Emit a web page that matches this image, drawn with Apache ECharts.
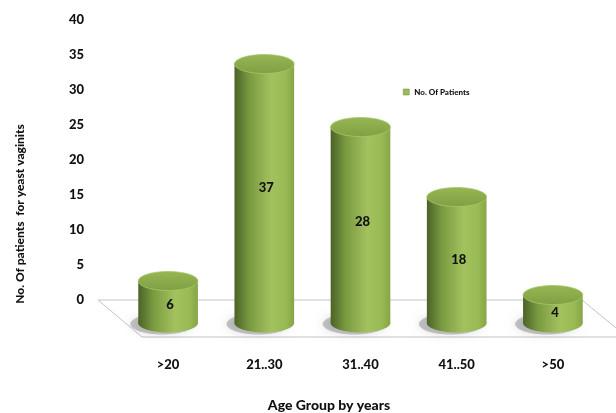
<!DOCTYPE html>
<html>
<head>
<meta charset="utf-8">
<script src="https://cdn.jsdelivr.net/npm/echarts@6/dist/echarts.min.js"></script>
<style>html,body{margin:0;padding:0;background:#fff}#c{width:616px;height:413px}</style>
</head>
<body>
<div id="c"></div>
<script>
const categories = ['>20', '21..30', '31..40', '41..50', '>50'];
const patients = [6, 37, 28, 18, 4];
const seriesName = 'No. Of Patients';
const xTitle = 'Age Group by years';
const yTitle = 'No. Of patients  for yeast vaginits';

const FONT = 'Lato, "Open Sans", sans-serif';
const W = 900;
const chart = echarts.init(document.getElementById('c'), null, {renderer: 'canvas'});

const bodyGrad = () => new echarts.graphic.LinearGradient(0, 0, 1, 0, [
  {offset: 0, color: '#4b6327'},
  {offset: 0.25, color: '#7a9a40'},
  {offset: 0.62, color: '#a3c25e'},
  {offset: 0.85, color: '#9aba55'},
  {offset: 1, color: '#86a646'}
]);
const topGrad = () => new echarts.graphic.LinearGradient(0, 0, 0, 1, [
  {offset: 0, color: '#97b654'},
  {offset: 1, color: '#7f9f43'}
]);

const DEPTH_DY = 23;

const option = {
  animation: false,
  backgroundColor: '#ffffff',
  grid: {left: 120, right: 15, top: 20, bottom: 113},
  legend: {
    left: 398, top: 83,
    itemWidth: 6, itemHeight: 6, itemGap: 4,
    icon: 'rect',
    textStyle: {fontFamily: FONT, fontWeight: W, fontSize: 8, color: '#111'},
    data: [{name: seriesName, itemStyle: {color: '#9bbb59', borderColor: '#6f8f35', borderWidth: 0.5}}]
  },
  xAxis: {
    type: 'category',
    data: categories,
    axisLine: {show: false},
    axisTick: {show: false},
    axisLabel: {margin: 58, fontFamily: FONT, fontWeight: W, fontSize: 13, color: '#111'}
  },
  yAxis: {
    type: 'value',
    min: 0, max: 40, interval: 5,
    splitLine: {show: false},
    axisLine: {show: false},
    axisTick: {show: false},
    axisLabel: {margin: 36, fontFamily: FONT, fontWeight: W, fontSize: 13, color: '#111'}
  },
  graphic: [
    {type: 'text', x: 329, y: 405, style: {text: xTitle, fontFamily: FONT, fontWeight: W, fontSize: 14, fill: '#111', textAlign: 'center', textVerticalAlign: 'middle'}},
    {type: 'text', x: 20, y: 214, rotation: Math.PI / 2, style: {text: yTitle, fontFamily: FONT, fontWeight: W, fontSize: 12, fill: '#111', textAlign: 'center', textVerticalAlign: 'middle'}}
  ],
  series: [
    {
      type: 'custom',
      name: 'floor',
      silent: true,
      clip: false,
      z: 1,
      data: [[0, 0]],
      renderItem: function (params, api) {
        const cs = params.coordSys;
        const y0 = api.coord([0, 0])[1];
        const l = cs.x, r = cs.x + cs.width;
        return {
          type: 'polygon',
          shape: {points: [[l - 22, y0], [r - 19, y0], [r + 26, y0 + 37], [l + 22, y0 + 37]]},
          style: {fill: '#ffffff', stroke: '#c4c4c4', lineWidth: 1}
        };
      }
    },
    {
      type: 'custom',
      name: seriesName,
      clip: false,
      z: 3,
      itemStyle: {color: '#9bbb59'},
      data: patients.map((v, i) => [i, v]),
      renderItem: function (params, api) {
        const idx = api.value(0), val = api.value(1);
        const top = api.coord([idx, val]);
        const base = api.coord([idx, 0]);
        const bw = api.size([1, 0])[0] * 0.62;
        const rx = bw / 2, ry = 9.5;
        const cx = top[0];
        const yTop = top[1] + DEPTH_DY, yBot = base[1] + DEPTH_DY;
        const labelY = (yTop + yBot + ry) / 2 - (yBot - yTop) * 0.04;
        return {
          type: 'group',
          children: [
            {type: 'ellipse', shape: {cx: cx - 6, cy: yBot + 1, rx: rx + 2, ry: ry + 1},
              style: {fill: 'rgba(60,60,60,0.28)', shadowBlur: 10, shadowColor: 'rgba(0,0,0,0.45)'}},
            {type: 'ellipse', shape: {cx: cx, cy: yBot, rx: rx, ry: ry}, style: {fill: bodyGrad()}},
            {type: 'rect', shape: {x: cx - rx, y: yTop, width: rx * 2, height: yBot - yTop}, style: {fill: bodyGrad()}},
            {type: 'ellipse', shape: {cx: cx, cy: yTop, rx: rx, ry: ry}, style: {fill: topGrad(), stroke: '#a9c66a', lineWidth: 0.8}},
            {type: 'text', x: cx + 2, y: labelY, style: {text: String(val), fontFamily: FONT, fontWeight: W, fontSize: 13, fill: '#111', textAlign: 'center', textVerticalAlign: 'middle'}}
          ]
        };
      }
    }
  ]
};
chart.setOption(option);
</script>
</body>
</html>
